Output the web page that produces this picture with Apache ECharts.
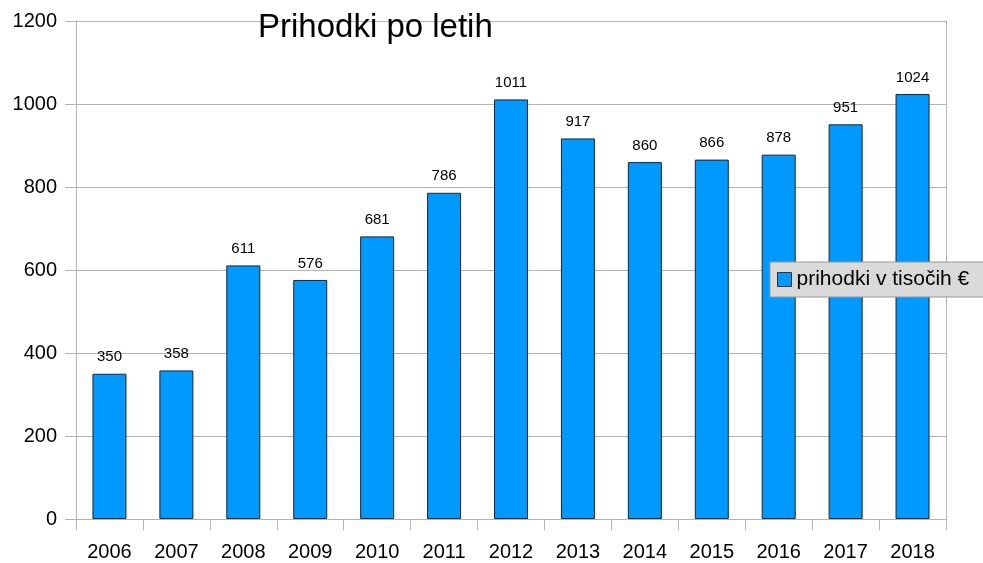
<!DOCTYPE html>
<html>
<head>
<meta charset="utf-8">
<script src="https://cdn.jsdelivr.net/npm/echarts@6/dist/echarts.min.js"></script>
<style>
html,body{margin:0;padding:0;background:#fff;}
#chart{width:983px;height:563px;}
</style>
</head>
<body>
<div id="chart"></div>
<script>
var years = ['2006','2007','2008','2009','2010','2011','2012','2013','2014','2015','2016','2017','2018'];
var prihodki = [350, 358, 611, 576, 681, 786, 1011, 917, 860, 866, 878, 951, 1024];
var seriesName = 'prihodki v tisočih €';
var titleText = 'Prihodki po letih';

var font = 'Liberation Sans, Arial, sans-serif';
var chart = echarts.init(document.getElementById('chart'), null, {renderer: 'canvas'});
chart.setOption({
  animation: false,
  backgroundColor: '#ffffff',
  title: {
    text: titleText,
    left: 253,
    top: 6,
    textStyle: {fontFamily: font, fontSize: 33, fontWeight: 'normal', color: '#000'}
  },
  legend: {
    data: [seriesName],
    left: 770,
    top: 262,
    orient: 'vertical',
    backgroundColor: '#d9d9d9',
    borderColor: '#999999',
    borderWidth: 1,
    padding: [7, 30, 7, 7],
    itemWidth: 14,
    itemHeight: 14,
    itemGap: 0,
    icon: 'rect',
    textStyle: {fontFamily: font, fontSize: 21, color: '#000'},
    itemStyle: {borderColor: '#333', borderWidth: 1}
  },
  grid: {left: 76, right: 37, top: 21, bottom: 44, containLabel: false},
  xAxis: {
    type: 'category',
    data: years,
    boundaryGap: true,
    axisLine: {lineStyle: {color: '#b3b3b3', width: 1}},
    axisTick: {show: true, length: 11, inside: false, alignWithLabel: false, lineStyle: {color: '#b3b3b3'}},
    axisLabel: {fontFamily: font, fontSize: 20, color: '#000', margin: 23},
    splitLine: {show: false}
  },
  yAxis: [{
    type: 'value',
    min: 0,
    max: 1200,
    interval: 200,
    axisLine: {show: true, lineStyle: {color: '#b3b3b3', width: 1}},
    axisTick: {show: true, length: 11, inside: false, lineStyle: {color: '#b3b3b3'}},
    axisLabel: {fontFamily: font, fontSize: 20, color: '#000', margin: 19, formatter: function (v) { return String(v); }},
    splitLine: {show: true, lineStyle: {color: '#b3b3b3', width: 1}}
  }, {
    type: 'value',
    position: 'right',
    min: 0,
    max: 1200,
    interval: 200,
    axisLine: {show: true, lineStyle: {color: '#b3b3b3', width: 1}},
    axisTick: {show: false},
    axisLabel: {show: false},
    splitLine: {show: false}
  }],
  series: [{
    name: seriesName,
    type: 'bar',
    data: prihodki,
    yAxisIndex: 0,
    barWidth: 34,
    itemStyle: {color: '#0099ff', borderColor: '#222', borderWidth: 1},
    label: {
      show: true,
      position: 'top',
      distance: 9,
      fontFamily: font,
      fontSize: 15,
      color: '#000'
    }
  }]
});
</script>
</body>
</html>
